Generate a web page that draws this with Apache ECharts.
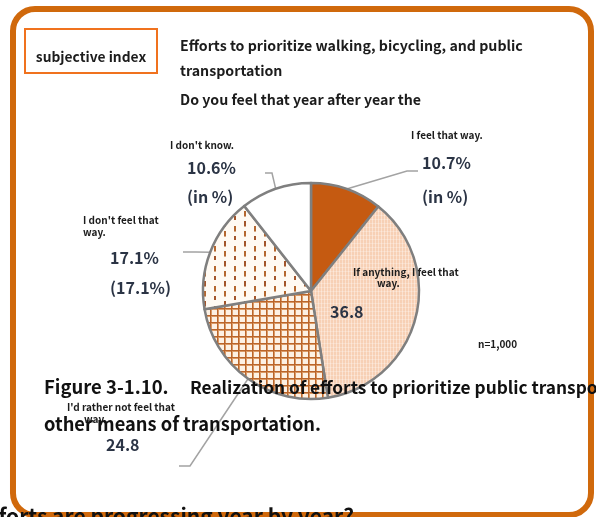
<!DOCTYPE html>
<html>
<head>
<meta charset="utf-8">
<script src="https://cdn.jsdelivr.net/npm/echarts@6/dist/echarts.min.js"></script>
<style>
  html, body { margin: 0; padding: 0; background: #ffffff; }
  #chart { width: 596px; height: 517px; }
</style>
</head>
<body>
<div id="chart"></div>
<script>
// Survey answers, clockwise from twelve o'clock
const categories = [
  "I feel that way.",
  "If anything, I feel that way.",
  "I'd rather not feel that way.",
  "I don't feel that way.",
  "I don't know."
];
const shares = [10.7, 36.8, 24.8, 17.1, 10.6];
const sampleNote = "n=1,000";
const badgeText = "subjective index";
const questionLines = [
  "Efforts to prioritize walking, bicycling, and public",
  "transportation",
  "Do you feel that year after year the"
];
const captionNumber = "Figure 3-1.10.";
const captionLines = [
  "Realization of efforts to prioritize public transportation and",
  "other means of transportation."
];
const trailingQuestion = "efforts are progressing year by year?";

const FONT = '"Noto Sans CJK JP", "Noto Sans", sans-serif';
const INK = '#1c1c1c';
const VALUE_INK = '#2b3445';

// Small canvas tiles used as repeating fills for the slices
function tile(w, h, draw) {
  const c = document.createElement('canvas');
  c.width = w; c.height = h;
  draw(c.getContext('2d'));
  return c;
}
const peachTile = tile(3, 4, g => {
  g.fillStyle = '#F7D0B5'; g.fillRect(0, 0, 3, 4);
  g.fillStyle = '#FBE1CF'; g.fillRect(0, 0, 1, 4);
  g.fillStyle = 'rgba(255,255,255,0.25)'; g.fillRect(0, 3, 3, 1);
});
const gridTile = tile(7, 7, g => {
  g.fillStyle = '#FDF1E4'; g.fillRect(0, 0, 7, 7);
  g.fillStyle = '#DA9A66';
  g.fillRect(1, 0, 1, 7);
  g.fillRect(0, 1, 7, 1);
  g.fillStyle = '#BA652B';
  g.fillRect(0, 0, 1, 7);
  g.fillRect(0, 0, 7, 1);
});
// staggered short vertical dashes
const dashTile = tile(20, 20, g => {
  g.fillStyle = '#FFFAF3'; g.fillRect(0, 0, 20, 20);
  const dash = (x, y, dark) => {
    g.fillStyle = dark; g.fillRect(x, y, 2, 5);
    g.fillStyle = '#D9A985'; g.fillRect(x, y + 5, 2, 1);
  };
  dash(4, 1, '#A2552B');
  dash(14, 6, '#B4672F');
  dash(4, 11, '#B4672F');
  dash(14, 16, '#A2552B');
});

const sliceFills = [
  '#C55A11',
  { image: peachTile, repeat: 'repeat' },
  { image: gridTile, repeat: 'repeat' },
  { image: dashTile, repeat: 'repeat' },
  '#FFFFFF'
];

// Label block placement (top-left corner) and leader-line elbows
const placements = [
  { x: 411, y: 125, line: [[407, 171], [418, 171]] },
  { x: 330, y: 267, line: null },
  { x: 67, y: 401, line: [[190, 466], [179, 466]] },
  { x: 83, y: 214, line: [[196, 252], [183, 252]] },
  { x: 170, y: 136, line: [[272, 173], [265, 173]] }
];

const small = { fontSize: 10, fontWeight: 'bold', color: INK, fontFamily: FONT };
const big = { fontSize: 16, fontWeight: 'bold', color: VALUE_INK, fontFamily: FONT };

function pct(v) { return v.toFixed(1) + '%'; }

// Per-slice label text and rich styles
function labelFor(i) {
  const v = shares[i];
  const name = categories[i];
  switch (i) {
    case 0:
      return {
        formatter: `{n|${name}}\n{v|${pct(v)}}\n{u|(in %)}`,
        rich: {
          n: Object.assign({}, small, { lineHeight: 20 }),
          v: Object.assign({}, big, { lineHeight: 36, padding: [0, 0, 0, 11] }),
          u: Object.assign({}, big, { lineHeight: 32, padding: [0, 0, 0, 11] })
        }
      };
    case 1: {
      const parts = name.split('I feel that ');
      return {
        formatter: `{n|${parts[0]}I feel that}\n{m|${parts[1]}}\n{v|${v.toFixed(1)}}`,
        rich: {
          n: Object.assign({}, small, { lineHeight: 11, padding: [0, 0, 0, 23] }),
          m: Object.assign({}, small, { lineHeight: 11, padding: [0, 0, 0, 47] }),
          v: Object.assign({}, big, { lineHeight: 46 })
        }
      };
    }
    case 2: {
      const cut = name.lastIndexOf(' ');
      return {
        formatter: `{n|${name.slice(0, cut)}}\n{m|${name.slice(cut + 1)}}\n{v|${v.toFixed(1)}}`,
        rich: {
          n: Object.assign({}, small, { lineHeight: 12 }),
          m: Object.assign({}, small, { lineHeight: 12, padding: [0, 0, 0, 17] }),
          v: Object.assign({}, big, { lineHeight: 40, padding: [0, 0, 0, 39] })
        }
      };
    }
    case 3: {
      const cut = name.lastIndexOf(' ');
      return {
        formatter: `{n|${name.slice(0, cut)}}\n{n|${name.slice(cut + 1)}}\n{v|${pct(v)}}\n{u|(${pct(v)})}`,
        rich: {
          n: Object.assign({}, small, { lineHeight: 12 }),
          v: Object.assign({}, big, { lineHeight: 40, padding: [0, 0, 0, 27] }),
          u: Object.assign({}, big, { lineHeight: 20, padding: [0, 0, 0, 27] })
        }
      };
    }
    default:
      return {
        formatter: `{n|${name}}\n{v|${pct(v)}}\n{u|(in %)}`,
        rich: {
          n: Object.assign({}, small, { lineHeight: 18 }),
          v: Object.assign({}, big, { lineHeight: 28, padding: [0, 0, 0, 17] }),
          u: Object.assign({}, big, { lineHeight: 30, padding: [0, 0, 0, 17] })
        }
      };
  }
}

const pieData = categories.map((name, i) => {
  const lab = labelFor(i);
  return {
    name: name,
    value: shares[i],
    itemStyle: { color: sliceFills[i] },
    label: { show: true, formatter: lab.formatter, rich: lab.rich },
    labelLine: { show: placements[i].line !== null }
  };
});

const chart = echarts.init(document.getElementById('chart'), null, { renderer: 'canvas' });

chart.setOption({
  animation: false,
  backgroundColor: '#ffffff',
  graphic: [
    {
      type: 'rect', z: 0,
      shape: { x: 13, y: 9, width: 578, height: 506, r: 22 },
      style: { fill: '#ffffff', stroke: '#D0690C', lineWidth: 6 }
    },
    {
      type: 'rect', z: 1,
      shape: { x: 25, y: 29, width: 132, height: 44 },
      style: { fill: '#ffffff', stroke: '#F0721E', lineWidth: 2 }
    },
    {
      type: 'text', z: 2, x: 91, y: 57,
      style: { text: badgeText, align: 'center', verticalAlign: 'middle',
        font: 'bold 13.8px ' + FONT, fill: INK }
    },
    ...questionLines.map((t, k) => ({
      type: 'text', z: 2, x: 180, y: [46, 71, 100][k],
      style: { text: t, align: 'left', verticalAlign: 'middle',
        font: 'bold 14.2px ' + FONT, fill: INK }
    })),
    {
      type: 'text', z: 2, x: 478, y: 344,
      style: { text: sampleNote, align: 'left', verticalAlign: 'middle',
        font: 'bold 10px ' + FONT, fill: INK }
    },
    {
      type: 'text', z: 50, x: 44, y: 387,
      style: { text: captionNumber, align: 'left', verticalAlign: 'middle',
        font: 'bold 18.5px ' + FONT, fill: '#111111' }
    },
    {
      type: 'text', z: 50, x: 190, y: 387,
      style: { text: captionLines[0], align: 'left', verticalAlign: 'middle',
        font: 'bold 17.3px ' + FONT, fill: '#111111' }
    },
    {
      type: 'text', z: 50, x: 44, y: 424,
      style: { text: captionLines[1], align: 'left', verticalAlign: 'middle',
        font: 'bold 18.3px ' + FONT, fill: '#111111' }
    },
    {
      type: 'text', z: 50, x: 354, y: 516,
      style: { text: trailingQuestion, align: 'right', verticalAlign: 'middle',
        font: 'bold 21px ' + FONT, fill: '#111111' }
    }
  ],
  series: [{
    type: 'pie',
    z: 5,
    center: [311, 291],
    radius: 108,
    startAngle: 90,
    clockwise: true,
    avoidLabelOverlap: false,
    silent: true,
    emphasis: { disabled: true },
    itemStyle: { borderColor: '#7f7f7f', borderWidth: 2.5 },
    label: { show: true, position: 'outside' },
    labelLine: { show: true, length: 10, length2: 10,
      lineStyle: { color: '#a3a3a3', width: 1.5 } },
    labelLayout: function (params) {
      const p = placements[params.dataIndex];
      const out = { x: p.x, y: p.y, align: 'left', verticalAlign: 'top' };
      if (p.line && params.labelLinePoints) {
        out.labelLinePoints = [params.labelLinePoints[0], p.line[0], p.line[1]];
      }
      return out;
    },
    data: pieData
  }]
});
</script>
</body>
</html>
